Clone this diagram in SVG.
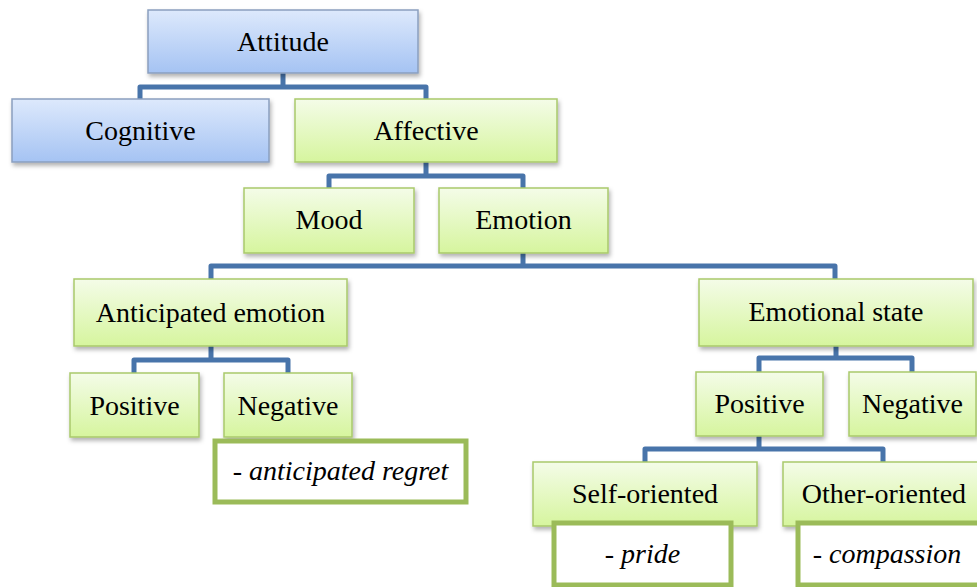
<svg xmlns="http://www.w3.org/2000/svg" width="977" height="587" viewBox="0 0 977 587">
<defs>
<linearGradient id="gBlue" x1="0" y1="0" x2="0" y2="1">
<stop offset="0" stop-color="#dde9fc"/>
<stop offset="1" stop-color="#a5c3f3"/>
</linearGradient>
<linearGradient id="gGreen" x1="0" y1="0" x2="0" y2="1">
<stop offset="0" stop-color="#f4fce8"/>
<stop offset="1" stop-color="#d6f59e"/>
</linearGradient>
<filter id="sh" x="-10%" y="-10%" width="125%" height="135%">
<feDropShadow dx="1.5" dy="3" stdDeviation="2" flood-color="#000" flood-opacity="0.3"/>
</filter>
</defs>
<style>
.blue{fill:url(#gBlue);stroke:#8a9fbf;stroke-width:1.5;filter:url(#sh)}
.green{fill:url(#gGreen);stroke:#a9c96b;stroke-width:1.5;filter:url(#sh)}
.note{fill:#ffffff;stroke:#9bbb59;stroke-width:5}
.i{font-style:italic}
.c{fill:none;stroke:#4874aa;stroke-width:5;stroke-linejoin:round;stroke-linecap:butt}
</style>
<rect width="977" height="587" fill="#ffffff"/>
<g id="connectors">
<path class="c" d="M283 73 V87 M140 99 V87 H426 V99"/>
<path class="c" d="M426 162 V176 M329 188 V176 H523 V188"/>
<path class="c" d="M523 253 V266 M211 279 V266 H835 V279"/>
<path class="c" d="M211 346 V360 M134 373 V360 H288 V373"/>
<path class="c" d="M836 346 V358 M759 372 V358 H912 V372"/>
<path class="c" d="M759 436 V449 M645 462 V449 H883 V462"/>
</g>
<g id="nodes" style="font-family:'Times New Roman','Liberation Serif','DejaVu Serif',serif;font-size:28px;text-anchor:middle;fill:#000">
<g id="attitude"><rect class="blue" x="148" y="10" width="270" height="63"/><text x="283" y="51" fill="#000">Attitude</text></g>
<g id="cognitive"><rect class="blue" x="12" y="99" width="257" height="63"/><text x="140.5" y="140" fill="#000">Cognitive</text></g>
<g id="affective"><rect class="green" x="295" y="99" width="262" height="63"/><text x="426" y="140" fill="#000">Affective</text></g>
<g id="mood"><rect class="green" x="244" y="188" width="170" height="65"/><text x="329" y="229" fill="#000">Mood</text></g>
<g id="emotion"><rect class="green" x="439" y="188" width="169" height="65"/><text x="523.5" y="229" fill="#000">Emotion</text></g>
<g id="anticipated-emotion"><rect class="green" x="74" y="279" width="273" height="67"/><text x="210.5" y="322" fill="#000">Anticipated emotion</text></g>
<g id="emotional-state"><rect class="green" x="699" y="279" width="274" height="67"/><text x="836" y="321" fill="#000">Emotional state</text></g>
<g id="positive-left"><rect class="green" x="70" y="373" width="129" height="64"/><text x="134.5" y="415" fill="#000">Positive</text></g>
<g id="negative-left"><rect class="green" x="224" y="373" width="128" height="64"/><text x="288" y="415" fill="#000">Negative</text></g>
<g id="anticipated-regret"><rect class="note" x="215" y="441" width="251" height="61"/><text class="i" x="340.5" y="480" fill="#000">- anticipated regret</text></g>
<g id="positive-right"><rect class="green" x="696" y="372" width="127" height="64"/><text x="759.5" y="413" fill="#000">Positive</text></g>
<g id="negative-right"><rect class="green" x="849" y="372" width="127" height="64"/><text x="912.5" y="413" fill="#000">Negative</text></g>
<g id="self-oriented"><rect class="green" x="533" y="462" width="224" height="64"/><text x="645" y="503" fill="#000">Self-oriented</text></g>
<g id="other-oriented"><rect class="green" x="783" y="462" width="202" height="64"/><text x="884" y="503" fill="#000">Other-oriented</text></g>
<g id="pride"><rect class="note" x="554" y="523" width="177" height="62"/><text class="i" x="642.5" y="563" fill="#000">- pride</text></g>
<g id="compassion"><rect class="note" x="798" y="523" width="182" height="62"/><text class="i" x="887" y="563" fill="#000">- compassion</text></g>
</g>
</svg>
